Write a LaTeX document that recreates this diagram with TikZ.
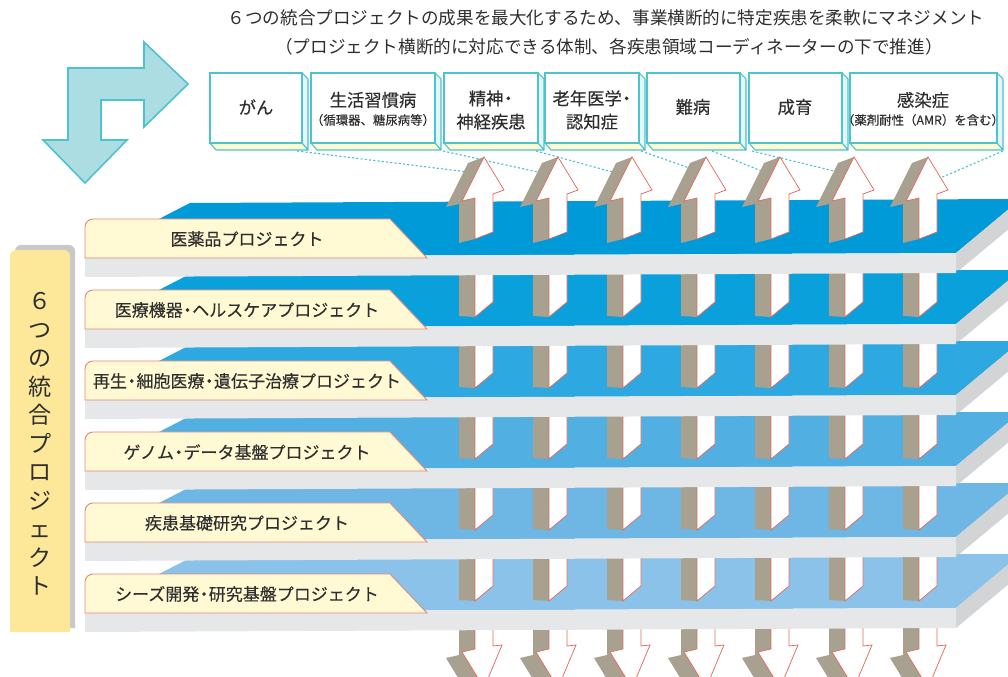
\documentclass[tikz,border=0pt]{standalone}
\usepackage{fontspec}
\setmainfont{Noto Sans CJK JP}
\newfontfamily\medfont{Noto Sans CJK JP}[FakeBold=0.25]
\definecolor{txt}{HTML}{2E2E2E}
\definecolor{cyanln}{HTML}{4CC3CE}
\definecolor{bigfill}{HTML}{ABDDE3}
\definecolor{boxcream}{HTML}{FFF9CF}
\definecolor{boxside}{HTML}{E6F6F8}
\definecolor{sA}{HTML}{009AD9}
\definecolor{sB}{HTML}{0AA0DC}
\definecolor{sC}{HTML}{2DA8E0}
\definecolor{sD}{HTML}{52AFE2}
\definecolor{sE}{HTML}{6EB7E5}
\definecolor{sF}{HTML}{8AC2E9}
\definecolor{slabfr}{HTML}{E6E7E9}
\definecolor{slabrt}{HTML}{D3D4D6}
\definecolor{tabfill}{HTML}{FFF9D4}
\definecolor{tabline}{HTML}{E2887C}
\definecolor{agray}{HTML}{A8A190}
\definecolor{ared}{HTML}{E06A60}
\definecolor{ylw}{HTML}{FDE89A}
\definecolor{shd}{HTML}{C8C8C8}
\newcommand\nk{\kern-.22em・\kern-.22em}
\begin{document}
\begin{tikzpicture}[x=0.75pt,y=-0.75pt,
  bigarrow/.style={fill=bigfill,draw=cyanln,line width=1.2pt,line join=miter},
  boxfront/.style={fill=white,draw=cyanln,line width=1.1pt},
  boxbot/.style={fill=boxcream,draw=cyanln,line width=0.8pt,line join=round},
  boxrt/.style={fill=boxside,draw=cyanln,line width=0.8pt,line join=round},
  dotline/.style={draw=cyanln,line width=0.85pt,dash pattern=on 1.6pt off 1.6pt},
  headtext/.style={text=txt,font=\fontsize{13.2}{16}\selectfont,inner sep=0pt},
  boxtext/.style={text=txt,font=\medfont\fontsize{13}{17.5}\selectfont,align=center,inner sep=0pt},
  subtext/.style={text=txt,font=\medfont\fontsize{9.3}{10}\selectfont,inner sep=0pt},
  slabfront/.style={fill=slabfr},
  slabright/.style={fill=slabrt},
  tabshape/.style={fill=tabfill,draw=tabline,line width=0.7pt},
  tabtext/.style={text=txt,font=\medfont\fontsize{12.75}{15}\selectfont,inner sep=0pt},
  agrayf/.style={fill=agray},
  afront/.style={fill=white,draw=ared,line width=0.55pt,line join=miter},
  vtext/.style={text=txt,font=\fontsize{17.3}{21.4}\selectfont,align=center,inner sep=0pt},
]
\path[use as bounding box] (0,0) rectangle (1008,677);
\clip (0,0) rectangle (1008,677);

% headline
\node[headtext] (h1) at (606,18) {６つの統合プロジェクトの成果を最大化するため、事業横断的に特定疾患を柔軟にマネジメント};
\node[headtext] (h2) at (609,47) {（プロジェクト横断的に対応できる体制、各疾患領域コーディネーターの下で推進）};

% big bent arrow
\draw[bigarrow] (68,68) -- (144,68) -- (144,42) -- (188,84) -- (144,127) -- (144,100)
  -- (101,100) -- (101,140) -- (127,140) -- (85,183) -- (43,140) -- (68,140) -- cycle;

% disease boxes
\foreach \a/\b in {210/302,311/435,444/538,545/639,647/740,749/842,850/997}{
  \draw[boxrt] (\b,73) -- (\b+6,79) -- (\b+6,150) -- (\b,143) -- cycle;
  \draw[boxbot] (\a,143) -- (\b,143) -- (\b+6,150) -- (\a+6,150) -- cycle;
  \draw[boxfront] (\a,73) rectangle (\b,143);
}
\node[boxtext] (t1) at (256,107) {がん};
\node[boxtext] (t2a) at (373,100) {生活習慣病};
\node[subtext] (t2b) at (373,120) {（循環器、糖尿病等）};
\node[boxtext] (t3) at (491,110) {精神\nk\\神経疾患};
\node[boxtext] (t4) at (592,110) {老年医学\nk\\認知症};
\node[boxtext] (t5) at (693,107) {難病};
\node[boxtext] (t6) at (795,107) {成育};
\node[boxtext] (t7a) at (923,100) {感染症};
\node[subtext] (t7b) at (923,120) {（薬剤耐性（AMR）を含む）};

% dotted guide lines
\coordinate (a1) at (297,151); \coordinate (a2) at (468,172);
\coordinate (b1) at (443,151); \coordinate (b2) at (542,173);
\coordinate (c1) at (536,151); \coordinate (c2) at (616,173);
\coordinate (d1) at (641,151); \coordinate (d2) at (692,169);
\coordinate (e1) at (712,151); \coordinate (e2) at (764,172);
\coordinate (f1) at (752,151); \coordinate (f2) at (838,172);
\coordinate (g1) at (1003,151); \coordinate (g2) at (938,179);
\foreach \p in {a,b,c,d,e,f,g}{\draw[dotline] (\p1) -- (\p2);}

% slab top and right faces
\foreach \j/\c in {0/sA,1/sB,2/sC,3/sD,4/sE,5/sF}{
  \pgfmathsetmacro\dy{71*\j}
  \fill[\c] (85,257+\dy) -- (190,203+\dy) -- (1010,199+\dy) -- (1010,208+\dy) -- (956,253+\dy) -- cycle;
  \fill[slabright] (956,253+\dy) -- (1010,208+\dy) -- (1010,228+\dy) -- (956,273+\dy) -- cycle;
}

% arrows
\foreach \k in {0,...,6}{
  \begin{scope}[shift={(74*\k,0)}]
    % top segment with head
    \fill[agrayf] (475,239) -- (459,243) -- (459,204) -- (446,207) -- (468,163) -- (484,157) -- (462,201) -- (475,198) -- cycle;
    \fill[agrayf] (493,194) -- (504,190) -- (488,196) -- (477,200) -- cycle;
    \draw[afront] (475,239) -- (475,198) -- (462,201) -- (484,157) -- (504,190) -- (493,194) -- (493,232) -- cycle;
    % middle segments
    \foreach \j in {0,...,4}{
      \pgfmathsetmacro\yl{317+71*\j}
      \pgfmathsetmacro\yt{262+71*\j}
      \fill[agrayf] (475,\yt) -- (475,\yl) -- (459,\yl-1) -- (459,\yt) -- cycle;
      \draw[afront] (475,\yt) -- (475,\yl) -- (493,\yl-15) -- (493,\yt) -- cycle;
    }
    % bottom segment with head
    \fill[agrayf] (475,617) -- (459,617) -- (459,655) -- (446,658) -- (468,694) -- (484,688) -- (462,652) -- (475,649) -- cycle;
    \draw[afront] (475,617) -- (475,649) -- (462,652) -- (484,688) -- (502,645) -- (493,646) -- (493,617) -- cycle;
  \end{scope}
}

% slab front faces
\foreach \j in {0,...,5}{
  \pgfmathsetmacro\dy{71*\j}
  \fill[slabfront] (85,257+\dy) -- (956,253+\dy) -- (956,273+\dy) -- (85,277+\dy) -- cycle;
}

% project tabs
\foreach \j/\t in {0/{医薬品プロジェクト},1/{医療機器\nk ヘルスケアプロジェクト},2/{再生\nk 細胞医療\nk 遺伝子治療プロジェクト},3/{ゲノム\nk データ基盤プロジェクト},4/{疾患基礎研究プロジェクト},5/{シーズ開発\nk 研究基盤プロジェクト}}{
  \pgfmathsetmacro\dy{71*\j}
  \draw[tabshape] (85,258+\dy) -- (85,227+\dy) arc[start angle=180,end angle=270,radius=8] -- (390,219+\dy) -- (427,258+\dy) -- cycle;
  \node[tabtext] (tab\j) at (247,239+\dy) {\t};
}

% vertical label
\fill[shd] (15,628) -- (15,251) arc[start angle=180,end angle=270,radius=6] -- (69,245) arc[start angle=270,end angle=360,radius=6] -- (75,628) -- cycle;
\fill[ylw] (10,632) -- (10,256) arc[start angle=180,end angle=270,radius=6] -- (64,250) arc[start angle=270,end angle=360,radius=6] -- (70,632) -- cycle;
\node[vtext] (vlabel) at (40,444) {６\\つ\\の\\統\\合\\プ\\ロ\\ジ\\ェ\\ク\\ト};
\end{tikzpicture}
\end{document}
